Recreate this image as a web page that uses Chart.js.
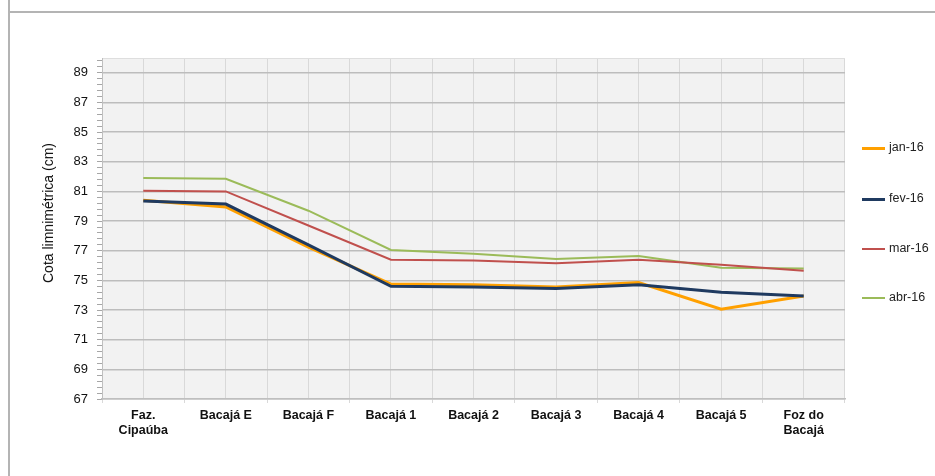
<!DOCTYPE html>
<html>
<head>
<meta charset="utf-8">
<script src="https://cdn.jsdelivr.net/npm/chart.js@4.4.0/dist/chart.umd.min.js"></script>
<style>
  html, body { margin: 0; padding: 0; background: #fff; }
  #wrap { position: relative; width: 935px; height: 476px; overflow: hidden; font-family: "Liberation Sans", Arial, sans-serif; }
  #frameTop { position: absolute; left: 9px; top: 11px; right: 0; height: 0; border-top: 2px solid #b4b4b4; }
  #frameLeft { position: absolute; left: 8px; top: 0; bottom: 0; width: 0; border-left: 2px solid #b4b4b4; }
  #ytitle { position: absolute; left: 48px; top: 213px; white-space: nowrap; font-size: 14px; color: #111;
            transform: translate(-50%, -50%) rotate(-90deg); }
  #legend { position: absolute; left: 862px; top: 0; }
  .item { position: absolute; left: 0; white-space: nowrap; font-size: 12.5px; color: #222; }
  .item span.sw { position: absolute; left: 0; width: 23px; }
  .item span.tx { position: absolute; left: 27px; top: -8px; }
</style>
</head>
<body>
<div id="wrap">
  <canvas id="myChart" width="935" height="476"></canvas>
  <div id="frameTop"></div>
  <div id="frameLeft"></div>
  <div id="ytitle">Cota limnimétrica (cm)</div>
  <div id="legend"></div>
</div>
<script>
const categories = [['Faz.', 'Cipaúba'], 'Bacajá E', 'Bacajá F', 'Bacajá 1', 'Bacajá 2', 'Bacajá 3', 'Bacajá 4', 'Bacajá 5', ['Foz do', 'Bacajá']];
const jan16 = [80.4, 79.95, 77.25, 74.75, 74.7, 74.55, 74.85, 73.05, 73.95];
const fev16 = [80.35, 80.15, 77.4, 74.6, 74.55, 74.45, 74.7, 74.2, 73.95];
const mar16 = [81.05, 81.0, 78.7, 76.4, 76.35, 76.15, 76.4, 76.05, 75.65];
const abr16 = [81.9, 81.85, 79.7, 77.05, 76.8, 76.45, 76.65, 75.85, 75.8];
const yTicks = [67, 69, 71, 73, 75, 77, 79, 81, 83, 85, 87, 89, 90];

const series = [
  { label: 'jan-16', data: jan16, color: '#ffa000', width: 3, order: 2 },
  { label: 'fev-16', data: fev16, color: '#1f3a60', width: 3, order: 1 },
  { label: 'mar-16', data: mar16, color: '#c0504d', width: 2, order: 3 },
  { label: 'abr-16', data: abr16, color: '#9bbb59', width: 2, order: 4 }
];

// legend on the right
const legendTops = [148, 199, 249, 298];
const legend = document.getElementById('legend');
series.forEach((s, i) => {
  const d = document.createElement('div');
  d.className = 'item';
  d.style.top = legendTops[i] + 'px';
  d.innerHTML = '<span class="sw" style="border-top:' + s.width + 'px solid ' + s.color + ';top:' + (-s.width / 2) + 'px"></span><span class="tx">' + s.label + '</span>';
  legend.appendChild(d);
});

// plot area background
const plotBg = {
  id: 'plotBg',
  beforeDraw(chart) {
    const a = chart.chartArea, c = chart.ctx;
    c.save();
    c.fillStyle = '#f2f2f2';
    c.fillRect(a.left, a.top, a.right - a.left, a.bottom - a.top);
    c.restore();
  }
};

const ctx = document.getElementById('myChart').getContext('2d');
new Chart(ctx, {
  type: 'line',
  data: {
    labels: categories,
    datasets: series.map(s => ({
      label: s.label,
      data: s.data,
      borderColor: s.color,
      backgroundColor: s.color,
      borderWidth: s.width,
      pointRadius: 0,
      tension: 0,
      order: s.order
    }))
  },
  options: {
    responsive: false,
    animation: false,
    layout: { padding: { left: 0, top: 58, right: 90, bottom: 0 } },
    plugins: { legend: { display: false }, tooltip: { enabled: false } },
    scales: {
      x: {
        offset: true,
        grid: { offset: true, color: '#d9d9d9', lineWidth: 1, tickLength: 4, drawTicks: true },
        border: { color: '#bfbfbf', width: 1.5 },
        ticks: { color: '#111', font: { family: 'Liberation Sans', size: 12.5, weight: 'bold' }, padding: 5, maxRotation: 0, autoSkip: false },
        afterFit(scale) { scale.height = 77; }
      },
      x2: {
        position: 'top',
        offset: true,
        grid: { offset: false, color: '#d9d9d9', lineWidth: 1, drawTicks: false },
        border: { display: false },
        ticks: { display: false },
        afterFit(scale) { scale.height = 0; }
      },
      y: {
        min: 67, max: 90,
        weight: 1,
        afterBuildTicks(scale) { scale.ticks = yTicks.map(v => ({ value: v })); },
        grid: {
          drawTicks: false,
          color: c => c.tick && c.tick.value === 90 ? '#dedede' : '#bdbdbd',
          lineWidth: c => c.tick && c.tick.value === 90 ? 1 : 1.5
        },
        border: { display: false },
        ticks: {
          color: '#111', padding: 9,
          font: { family: 'Liberation Sans', size: 13 },
          callback: v => v === 90 ? '' : v
        },
        afterFit(scale) { scale.width = 97; }
      },
      y2: {
        position: 'left',
        min: 67, max: 90,
        weight: 0,
        afterBuildTicks(scale) {
          const t = [];
          for (let k = 0; k <= 57; k++) t.push({ value: 67 + k * 0.4 });
          scale.ticks = t;
        },
        grid: { drawOnChartArea: false, drawTicks: true, tickLength: 5, color: '#a6a6a6' },
        border: { color: '#bfbfbf', width: 1 },
        ticks: { display: false },
        afterFit(scale) { scale.width = 5; }
      }
    }
  },
  plugins: [plotBg]
});
</script>
</body>
</html>
